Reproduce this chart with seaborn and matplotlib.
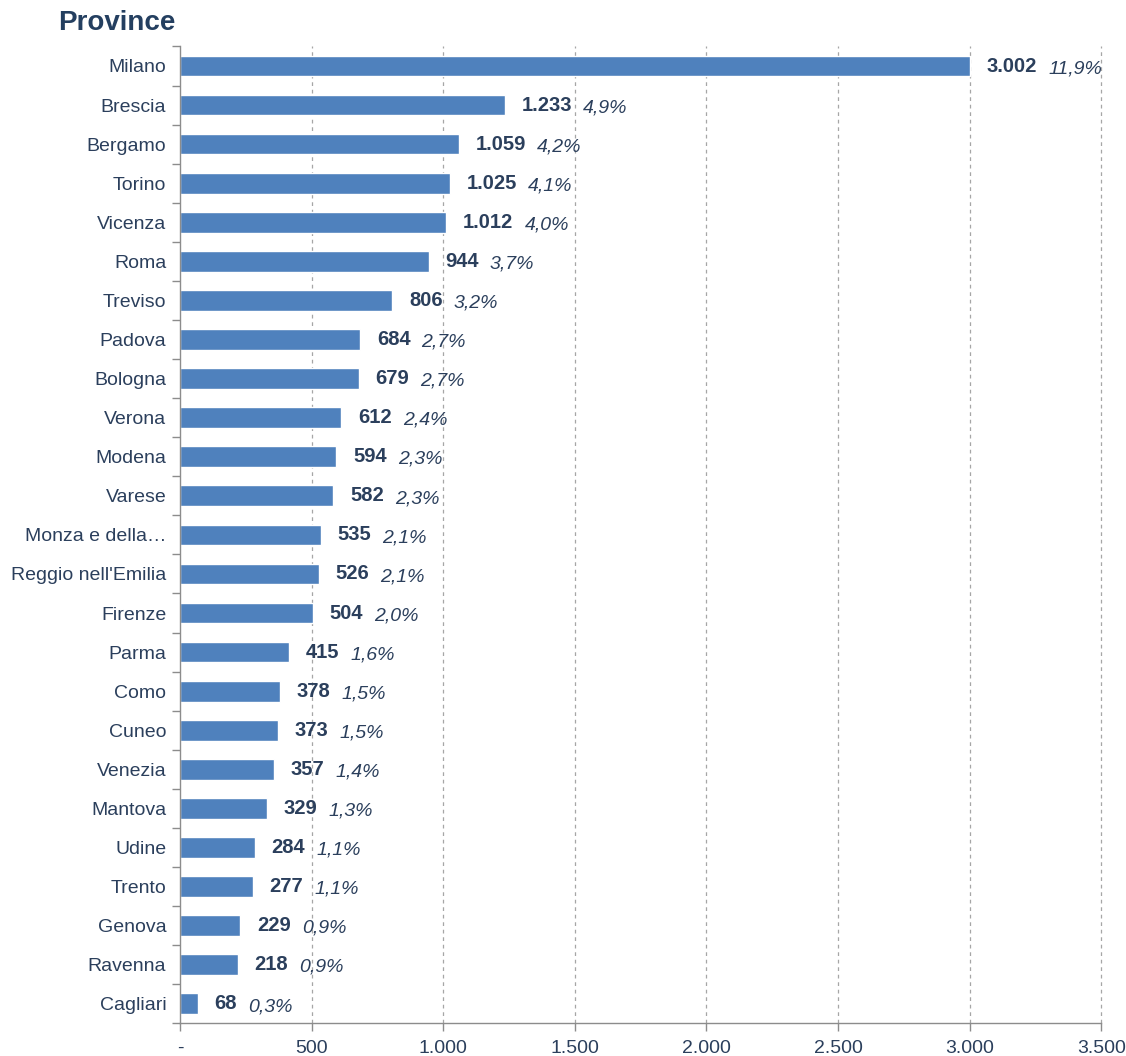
import matplotlib
matplotlib.use("Agg")
import matplotlib.pyplot as plt
import seaborn as sns
import pandas as pd
import numpy as np
from matplotlib.ticker import FixedLocator, FuncFormatter

provinces = ["Milano", "Brescia", "Bergamo", "Torino", "Vicenza", "Roma", "Treviso",
             "Padova", "Bologna", "Verona", "Modena", "Varese", "Monza e della…",
             "Reggio nell'Emilia", "Firenze", "Parma", "Como", "Cuneo", "Venezia",
             "Mantova", "Udine", "Trento", "Genova", "Ravenna", "Cagliari"]
values = [3002, 1233, 1059, 1025, 1012, 944, 806, 684, 679, 612, 594, 582, 535,
          526, 504, 415, 378, 373, 357, 329, 284, 277, 229, 218, 68]
shares = ["11,9%", "4,9%", "4,2%", "4,1%", "4,0%", "3,7%", "3,2%", "2,7%", "2,7%",
          "2,4%", "2,3%", "2,3%", "2,1%", "2,1%", "2,0%", "1,6%", "1,5%", "1,5%",
          "1,4%", "1,3%", "1,1%", "1,1%", "0,9%", "0,9%", "0,3%"]
x_ticks = [0, 500, 1000, 1500, 2000, 2500, 3000, 3500]

sns.set_theme(style="white")
plt.rcParams["font.family"] = ["Liberation Sans", "DejaVu Sans"]

text_col = "#2B3F5C"
bar_col = "#4F81BD"
axis_col = "#8C8C8C"

df = pd.DataFrame({"Provincia": provinces, "Valore": values})

fig = plt.figure(figsize=(11.26, 10.56), dpi=100)
ax = fig.add_axes([0.160, 0.031, 0.818, 0.925])

sns.barplot(data=df, y="Provincia", x="Valore", orient="h", color=bar_col,
            width=0.53, saturation=1, ax=ax)

ax.set_xlim(0, 3500)
ax.set_ylim(len(provinces) - 0.5, -0.5)
ax.set_xlabel("")
ax.set_ylabel("")

def fmt(v, pos):
    if v == 0:
        return "-"
    return f"{int(v):,}".replace(",", ".")

ax.xaxis.set_major_locator(FixedLocator(x_ticks))
ax.xaxis.set_major_formatter(FuncFormatter(fmt))
for t in x_ticks[1:]:
    ax.axvline(t, color="#A6A6A6", linestyle=(0, (3, 3)), linewidth=0.9,
               zorder=0, clip_on=False)

for s in ["top", "right"]:
    ax.spines[s].set_visible(False)
for s in ["left", "bottom"]:
    ax.spines[s].set_color(axis_col)
    ax.spines[s].set_linewidth(1.0)

ax.tick_params(axis="x", which="major", length=6, width=1, color=axis_col,
               direction="out", labelsize=14, labelcolor=text_col, pad=6, bottom=True)
ax.tick_params(axis="y", which="major", length=0, labelsize=14, labelcolor=text_col, pad=10)
ax.yaxis.set_minor_locator(FixedLocator(np.arange(len(provinces) + 1) - 0.5))
ax.tick_params(axis="y", which="minor", length=6, width=1, color=axis_col,
               direction="out", left=True)

for i, (v, s) in enumerate(zip(values, shares)):
    num = ax.annotate(f"{v:,}".replace(",", "."), xy=(v, i), xytext=(12, 0),
                      textcoords="offset points", ha="left", va="center",
                      fontsize=14.5, fontweight="bold", color=text_col)
    ax.annotate(s, xy=(1, 0.5), xycoords=num, xytext=(8, -2),
                textcoords="offset points", ha="left", va="center",
                fontsize=14, fontstyle="italic", color=text_col)

fig.text(0.052, 0.978, "Province", fontsize=20, fontweight="bold",
         color="#243F60", ha="left", va="center")

fig.savefig("out.png", dpi=100)
